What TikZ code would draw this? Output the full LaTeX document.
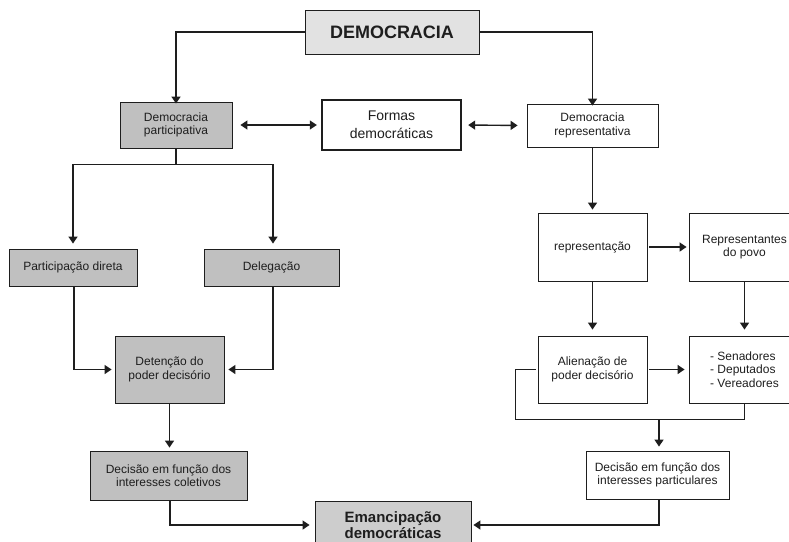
\documentclass[tikz,border=0pt]{standalone}
\usepackage{fontspec}
\setmainfont{Liberation Sans}
\usepackage{tikz}
\usetikzlibrary{arrows.meta,calc}
\definecolor{Ink}{HTML}{1E1E1E}
\definecolor{Pale}{HTML}{E2E2E2}
\definecolor{Shade}{HTML}{C0C0C0}
\definecolor{Mid}{HTML}{CDCDCD}

\begin{document}
\begin{tikzpicture}[x=1pt, y=-1pt, >={Triangle[length=7pt,width=9pt]},
    box/.style={draw=Ink, line width=0.8pt, text=Ink, align=center, inner sep=2pt,
      font=\fontsize{12}{13.5}\selectfont},
    grey/.style={box, fill=Shade},
    link/.style={draw=Ink, line width=1.4pt}]
    \useasboundingbox (0,0) rectangle (789,541);
    \node[box, fill=Pale, minimum width=174pt, minimum height=44pt, font=\fontsize{18}{20}\selectfont\bfseries] (demo) at (392,32) {DEMOCRACIA};
    \node[grey, minimum width=112pt, minimum height=46pt] (part) at (176,125) {Democracia\\participativa};
    \node[box, line width=2.4pt, fill=white, minimum width=139pt, minimum height=50pt, font=\fontsize{14}{18}\selectfont] (formas) at (391.5,125) {Formas\\democráticas};
    \node[box, fill=white, minimum width=131pt, minimum height=43pt] (repr) at (592.5,125.5) {Democracia\\representativa};
    \node[grey, minimum width=128pt, minimum height=37pt] (direta) at (73,267.5) {Participação direta};
    \node[grey, minimum width=135pt, minimum height=37pt] (deleg) at (271.5,267.5) {Delegação};
    \node[box, minimum width=109pt, minimum height=68pt] (repres) at (592.5,247) {representação};
    \node[box, minimum width=111pt, minimum height=68pt] (povo) at (744.5,247) {Representantes\\do povo};
    \node[grey, minimum width=109pt, minimum height=67pt] (deten) at (169.5,369.5) {Detenção do\\poder decisório};
    \node[box, minimum width=109pt, minimum height=67pt] (alien) at (592.5,369.5) {Alienação de\\poder decisório};
    \node[box, minimum width=111pt, minimum height=67pt, align=left] (senad) at (744.5,369.5) {- Senadores\\- Deputados\\- Vereadores};
    \node[grey, minimum width=157pt, minimum height=49pt] (colet) at (168.5,475.5) {Decisão em função dos\\interesses coletivos};
    \node[box, minimum width=143pt, minimum height=48pt] (partic) at (657.5,475) {Decisão em função dos\\interesses particulares};
    \node[box, fill=Mid, minimum width=156pt, minimum height=47pt, font=\fontsize{15}{16.5}\selectfont\bfseries] (eman) at (393,525) {Emancipação\\democráticas};

    \draw[link, ->] (demo.west) -| ([yshift=-2pt]part.north);
    \draw[link, ->] (demo.east) -| ([yshift=-2pt]repr.north);
    \draw[link, <->, shorten <=8pt, shorten >=4pt] (part.east) -- (formas.west);
    \draw[link, <->, shorten <=6pt, shorten >=9pt] (formas.east) -- (repr.west);
    \draw[link] (part.south) -- ++(0,16) coordinate (split);
    \draw[link, ->, shorten >=5pt] (split) -| (direta.north);
    \draw[link, ->, shorten >=5pt] (split) -| ([xshift=1.5pt]deleg.north);
    \draw[link, ->, shorten >=3pt] (repr.south) -- (repres.north);
    \draw[link, ->, shorten <=2pt, shorten >=2pt] (repres.east) -- (povo.west);
    \draw[link, ->, shorten >=3pt] ([xshift=1pt]direta.south) |- (deten.west);
    \draw[link, ->, shorten >=4pt] ([xshift=1.5pt]deleg.south) |- (deten.east);
    \draw[link, ->, shorten >=3pt] (deten.south) -- (deten.south |- colet.north);
    \draw[link, ->, shorten >=5pt] ([xshift=1.5pt]colet.south) |- (eman.west);
    \draw[link, ->, shorten >=6pt] (repres.south) -- (alien.north);
    \draw[link, ->, shorten >=6pt] (povo.south) -- (senad.north);
    \draw[link, ->, shorten <=2pt, shorten >=4pt] (alien.east) -- (senad.west);
    \path (alien.west) ++(-22,50) coordinate (merge);
    \draw[link] ([xshift=-2pt]alien.west) -| (merge) -| (senad.south);
    \draw[link, ->, shorten >=4pt] ([xshift=1.5pt]partic.north |- merge) -- ([xshift=1.5pt]partic.north);
    \draw[link, ->, shorten >=2pt] ([xshift=1.5pt]partic.south) |- (eman.east);
\end{tikzpicture}
\end{document}
